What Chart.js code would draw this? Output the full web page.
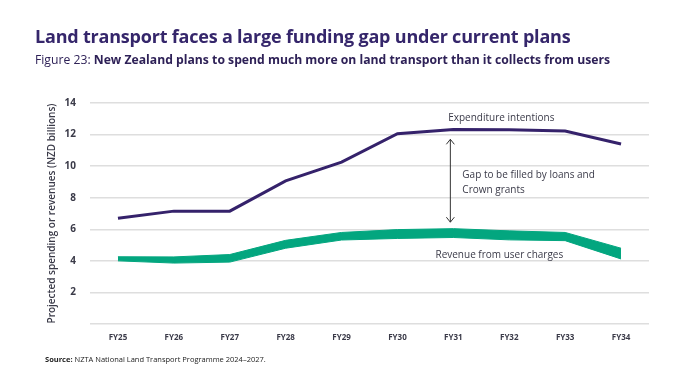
<!DOCTYPE html>
<html>
<head>
<meta charset="utf-8">
<script src="https://cdn.jsdelivr.net/npm/chart.js@4.4.1/dist/chart.umd.min.js"></script>
<style>
  html, body { margin: 0; padding: 0; background: #fff; }
  #wrap { position: relative; width: 689px; height: 385px; overflow: hidden; }
  #chart { position: absolute; left: 0; top: 0; }
  .txt { position: absolute; white-space: nowrap; font-family: "Open Sans", Lato, sans-serif; }
  #title { left: 35px; top: 24px; font-size: 18px; font-weight: 700; color: #35266b; letter-spacing: -0.2px; }
  #sub { left: 35px; top: 51px; font-size: 12.2px; color: #2e2157; }
  #sub b { font-weight: 700; }
  #src { left: 45px; top: 354px; font-size: 7.5px; color: #222; }
</style>
</head>
<body>
<div id="wrap">
  <canvas id="chart" width="689" height="385"></canvas>
  <div class="txt" id="title">Land transport faces a large funding gap under current plans</div>
  <div class="txt" id="sub">Figure 23: <b>New Zealand plans to spend much more on land transport than it collects from users</b></div>
  <div class="txt" id="src"><b>Source:</b> NZTA National Land Transport Programme 2024–2027.</div>
</div>
<script>
const years = ["FY25", "FY26", "FY27", "FY28", "FY29", "FY30", "FY31", "FY32", "FY33", "FY34"];
const expenditure = [6.7, 7.15, 7.15, 9.07, 10.25, 12.05, 12.32, 12.3, 12.22, 11.4];
const revenueLow = [4.0, 3.86, 3.92, 4.8, 5.32, 5.42, 5.48, 5.33, 5.28, 4.12];
const revenueHigh = [4.26, 4.25, 4.4, 5.3, 5.8, 5.98, 6.04, 5.9, 5.8, 4.8];
const yTicks = [0, 2, 4, 6, 8, 10, 12, 14];

const purple = "#35226b";
const teal = "#03a67f";
const font = "'Open Sans', Lato, sans-serif";

// * labels and arrow on top of the plot
const notes = {
  id: "notes",
  afterDatasetsDraw(chart) {
    const ctx = chart.ctx;
    const x = chart.scales.x;
    const y = chart.scales.y;
    ctx.save();
    ctx.fillStyle = "#3a3a48";
    ctx.font = "10px " + font;
    ctx.textBaseline = "middle";
    ctx.textAlign = "center";
    ctx.fillText("Expenditure intentions", x.getPixelForValue(6) + 48, y.getPixelForValue(13.05));
    ctx.fillText("Revenue from user charges", x.getPixelForValue(6) + 46, y.getPixelForValue(4.35));
    ctx.textAlign = "left";
    ctx.fillText("Gap to be filled by loans and", x.getPixelForValue(6) + 9, y.getPixelForValue(9.4));
    ctx.fillText("Crown grants", x.getPixelForValue(6) + 9, y.getPixelForValue(8.5));

    // ? double arrow
    const ax = x.getPixelForValue(6) - 3;
    const top = y.getPixelForValue(11.7);
    const bot = y.getPixelForValue(6.45);
    ctx.strokeStyle = "#333";
    ctx.lineWidth = 1;
    ctx.beginPath();
    ctx.moveTo(ax, top);
    ctx.lineTo(ax, bot);
    ctx.moveTo(ax - 4, top + 5);
    ctx.lineTo(ax, top);
    ctx.lineTo(ax + 4, top + 5);
    ctx.moveTo(ax - 4, bot - 5);
    ctx.lineTo(ax, bot);
    ctx.lineTo(ax + 4, bot - 5);
    ctx.stroke();
    ctx.restore();
  },
};

const chart = new Chart(document.getElementById("chart"), {
  type: "line",
  data: {
    labels: years,
    datasets: [
      {
        data: expenditure,
        borderColor: purple,
        borderWidth: 3,
        pointRadius: 0,
        fill: false,
      },
      {
        data: revenueLow,
        borderColor: teal,
        borderWidth: 1,
        pointRadius: 0,
        fill: false,
      },
      {
        data: revenueHigh,
        borderColor: teal,
        backgroundColor: teal,
        borderWidth: 1,
        pointRadius: 0,
        fill: "-1",
      },
    ],
  },
  options: {
    responsive: false,
    animation: false,
    layout: { padding: { left: 46, right: 40, top: 103, bottom: 31 } },
    plugins: { legend: { display: false }, tooltip: { enabled: false } },
    scales: {
      x: {
        offset: true,
        grid: { display: false },
        border: { display: false },
        ticks: { padding: 1, color: "#3a3a48", font: { family: font, size: 8, weight: "bold" } },
        afterFit(s) { s.height = 30; },
      },
      y: {
        min: 0,
        max: 14,
        afterBuildTicks(s) { s.ticks = yTicks.map((v) => ({ value: v })); },
        grid: { color: "#dedede", lineWidth: 1.5, drawTicks: false },
        border: { display: false },
        ticks: {
          padding: 14,
          color: "#3a3a48",
          font: { family: font, size: 10, weight: "bold" },
          callback: (v) => (v === 0 ? "" : v),
        },
        title: {
          display: true,
          text: "Projected spending or revenues (NZD billions)",
          color: "#3a3a48",
          font: { family: font, size: 10, weight: "600" },
          padding: 0,
        },
        afterFit(s) { s.width = 44; },
      },
    },
  },
  plugins: [notes],
});
</script>
</body>
</html>
